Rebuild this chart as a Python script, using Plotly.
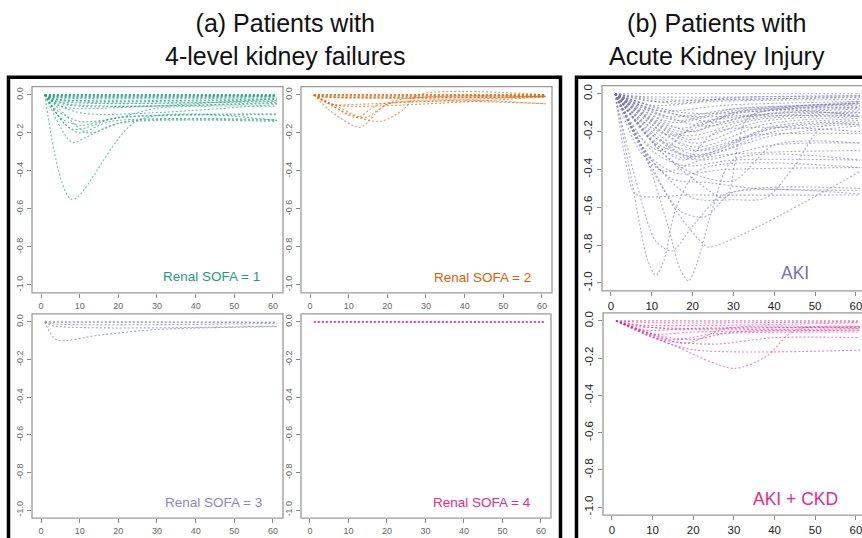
import plotly.graph_objects as go

W, H = 862, 538

# ---------------- data (keypoints) ----------------
x_ticks = [0, 10, 20, 30, 40, 50, 60]
y_ticks = [0, -0.2, -0.4, -0.6, -0.8, -1.0]
y_ticktext = ["0.0", "-0.2", "-0.4", "-0.6", "-0.8", "-1.0"]

# Renal SOFA = 1
sofa1_x = [[1, 8, 25, 61], [1, 8, 12, 20, 61], [1, 6, 10, 18, 61], [1, 5, 10, 20, 61],
           [1, 4, 10, 20, 30, 61], [1, 5, 12, 61], [1, 4, 10, 61], [1, 3, 61], [1, 61],
           [1, 3, 61], [1, 3, 61], [1, 4, 8, 61], [1, 6, 12, 22, 61], [1, 8, 20, 61],
           [1, 3, 61], [1, 5, 61], [1, 61], [1, 3, 61], [1, 4, 61], [1, 3, 61], [1, 5, 61],
           [1, 6, 61], [1, 61]]
sofa1_y = [[0, -0.55, -0.135, -0.135], [0, -0.25, -0.22, -0.15, -0.14], [0, -0.15, -0.2, -0.14, -0.13],
           [0, -0.12, -0.16, -0.12, -0.105], [0, -0.08, -0.14, -0.12, -0.07, -0.06],
           [0, -0.06, -0.1, -0.05], [0, -0.04, -0.06, -0.04], [0, -0.03, -0.03], [0, 0],
           [0, -0.01, -0.01], [0, -0.02, -0.02], [0, -0.05, -0.07, -0.02], [0, -0.1, -0.2, -0.14, -0.135],
           [0, -0.18, -0.12, -0.1], [0, -0.005, -0.005], [0, -0.03, -0.035], [0, -0.002],
           [0, -0.008, -0.008], [0, -0.015, -0.015], [0, -0.004, -0.004], [0, -0.025, -0.025],
           [0, -0.045, -0.045], [0, 0]]

# Renal SOFA = 2
sofa2_x = [[1, 5, 13, 20, 61], [1, 10, 18, 24, 28, 61], [1, 6, 12, 18, 61], [1, 6, 12, 61],
           [1, 61], [1, 3, 61], [1, 4, 10, 61], [1, 8, 14, 22, 61], [1, 3, 61], [1, 61],
           [1, 3, 61], [1, 61], [1, 4, 61]]
sofa2_y = [[0, -0.08, -0.17, -0.05, -0.047], [0, -0.1, -0.14, -0.08, 0, 0], [0, -0.06, -0.12, -0.05, -0.047],
           [0, -0.05, -0.05, -0.005], [0, 0], [0, -0.01, -0.01], [0, -0.04, -0.06, -0.01],
           [0, -0.07, -0.12, -0.03, -0.01], [0, -0.005, -0.005], [0, -0.002],
           [0, -0.008, -0.008], [0, 0], [0, -0.012, -0.012]]

# Renal SOFA = 3
sofa3_x = [[1, 4, 15, 30, 61], [1, 3, 61], [1, 61], [1, 3, 61], [1, 61]]
sofa3_y = [[0, -0.095, -0.07, -0.04, -0.025], [0, -0.02, -0.022], [0, 0], [0, -0.01, -0.008], [0, -0.003]]

# Renal SOFA = 4
sofa4_x = [[1, 61], [1, 61], [1, 61]]
sofa4_y = [[0, 0], [0, -0.002], [0, 0.001]]

# AKI
aki_x = [[1, 61], [1, 8, 61], [1, 10, 25, 61], [1, 10, 25, 61], [1, 12, 28, 61], [1, 14, 30, 61],
         [1, 15, 30, 61], [1, 16, 32, 61], [1, 17, 33, 61], [1, 18, 35, 61], [1, 19, 35, 61],
         [1, 20, 36, 61], [1, 20, 38, 61], [1, 21, 40, 61], [1, 20, 40, 61], [1, 19, 38, 61],
         [1, 12, 20, 40, 61], [1, 12, 21, 40, 61], [1, 10, 20, 35, 61], [1, 13, 22, 40, 61],
         [1, 10, 18, 30, 61], [1, 9, 16, 28, 61], [1, 7, 13, 25, 61], [1, 8, 15, 24, 35, 61],
         [1, 4, 6, 20, 61], [1, 5, 9, 11, 13, 16, 22, 61], [1, 8, 14, 17, 19, 21, 25, 30, 61],
         [1, 8, 16, 22, 24, 61], [1, 10, 20, 30, 38, 45, 52, 61], [1, 6, 11, 15, 20, 28, 61],
         [1, 10, 17, 23, 30, 61], [1, 12, 22, 28, 34, 61], [1, 12, 20, 30, 40, 61],
         [1, 10, 18, 26, 61], [1, 6, 12, 22, 61], [1, 8, 15, 30, 61], [1, 20, 30, 61],
         [1, 25, 40, 61], [1, 15, 30, 61], [1, 10, 20, 45, 61], [1, 12, 61], [1, 18, 61],
         [1, 22, 40, 61], [1, 16, 30, 61]]
aki_y = [[0, 0], [0, -0.015, -0.01], [0, -0.04, -0.03, -0.02], [0, -0.06, -0.04, -0.03],
         [0, -0.09, -0.06, -0.04], [0, -0.12, -0.08, -0.05], [0, -0.15, -0.09, -0.06],
         [0, -0.18, -0.1, -0.07], [0, -0.2, -0.12, -0.08], [0, -0.22, -0.13, -0.09],
         [0, -0.24, -0.14, -0.1], [0, -0.26, -0.15, -0.11], [0, -0.28, -0.16, -0.12],
         [0, -0.3, -0.17, -0.13], [0, -0.32, -0.18, -0.14], [0, -0.33, -0.19, -0.15],
         [0, -0.25, -0.34, -0.2, -0.16], [0, -0.27, -0.33, -0.22, -0.17], [0, -0.22, -0.3, -0.22, -0.21],
         [0, -0.3, -0.35, -0.27, -0.26], [0, -0.3, -0.38, -0.35, -0.35], [0, -0.32, -0.42, -0.4, -0.39],
         [0, -0.3, -0.41, -0.33, -0.3], [0, -0.3, -0.45, -0.47, -0.5, -0.51],
         [0, -0.4, -0.53, -0.535, -0.535], [0, -0.45, -0.88, -0.96, -0.88, -0.6, -0.4, -0.39],
         [0, -0.3, -0.7, -0.93, -0.99, -0.9, -0.6, -0.35, -0.35], [0, -0.3, -0.62, -0.78, -0.81, -0.41],
         [0, -0.35, -0.55, -0.56, -0.55, -0.38, -0.17, -0.165], [0, -0.45, -0.78, -0.83, -0.7, -0.53, -0.53],
         [0, -0.4, -0.62, -0.65, -0.52, -0.5], [0, -0.3, -0.48, -0.55, -0.12, -0.12],
         [0, -0.3, -0.42, -0.46, -0.27, -0.26], [0, -0.25, -0.35, -0.2, -0.2], [0, -0.2, -0.3, -0.15, -0.12],
         [0, -0.15, -0.22, -0.1, -0.07], [0, -0.2, -0.1, -0.05], [0, -0.15, -0.08, -0.04],
         [0, -0.05, -0.02, -0.01], [0, -0.08, -0.12, -0.1, -0.1], [0, -0.03, -0.015],
         [0, -0.1, -0.045], [0, -0.17, -0.1, -0.075], [0, -0.14, -0.08, -0.055]]

# AKI + CKD
ckd_x = [[1, 15, 30, 38, 45, 61], [1, 10, 20, 61], [1, 12, 25, 40, 61], [1, 15, 25, 61],
         [1, 10, 20, 61], [1, 8, 20, 61], [1, 6, 61], [1, 5, 61], [1, 61], [1, 10, 61],
         [1, 18, 28, 61], [1, 12, 20, 30, 61], [1, 12, 61]]
ckd_y = [[0, -0.13, -0.255, -0.19, -0.05, -0.03], [0, -0.09, -0.155, -0.157], [0, -0.1, -0.125, -0.09, -0.09],
         [0, -0.1, -0.07, -0.06], [0, -0.07, -0.06, -0.05], [0, -0.05, -0.04, -0.035], [0, -0.03, -0.03],
         [0, -0.02, -0.01], [0, 0], [0, -0.01, -0.005], [0, -0.12, -0.04, -0.04], [0, -0.08, -0.1, -0.06, -0.05],
         [0, -0.04, -0.04]]

panel_labels = ["Renal SOFA = 1", "Renal SOFA = 2", "Renal SOFA = 3", "Renal SOFA = 4", "AKI", "AKI + CKD"]
titles = ["(a) Patients with<br>4-level kidney failures", "(b) Patients with<br>Acute Kidney Injury"]

# ---------------- layout geometry ----------------
def px_x(p):
    return p / W

def px_y(p):
    return 1 - p / H

panels = [
    dict(x=sofa1_x, y=sofa1_y, col="rgba(27,158,119,0.65)", fr=(32, 283, 85, 292), xr=[-2.33, 62.6],
         lab=panel_labels[0], lc="#1B9E77", lp=(262, 276), small=True),
    dict(x=sofa2_x, y=sofa2_y, col="rgba(217,95,2,0.65)", fr=(301, 552, 85, 292), xr=[-2.33, 62.6],
         lab=panel_labels[1], lc="#D95F02", lp=(533, 277), small=True),
    dict(x=sofa3_x, y=sofa3_y, col="rgba(117,112,179,0.65)", fr=(32, 283, 313, 518), xr=[-2.33, 62.6],
         lab=panel_labels[2], lc="#8985C2", lp=(264, 502), small=True),
    dict(x=sofa4_x, y=sofa4_y, col="rgba(231,41,138,0.8)", fr=(301, 551, 313, 518), xr=[-2.33, 62.6],
         lab=panel_labels[3], lc="#E7298A", lp=(533, 502), small=True),
    dict(x=aki_x, y=aki_y, col="rgba(117,112,179,0.6)", fr=(602, 862, 84, 290), xr=[-2.2, 61.5],
         lab=panel_labels[4], lc="#7570B3", lp=(795, 272), small=False),
    dict(x=ckd_x, y=ckd_y, col="rgba(231,41,138,0.6)", fr=(603, 862, 312, 515), xr=[-2.2, 61.5],
         lab=panel_labels[5], lc="#E7298A", lp=(795, 499), small=False),
]

fig = go.Figure()
layout = dict(width=W, height=H, margin=dict(l=0, r=0, t=0, b=0), autosize=False,
              paper_bgcolor="white", plot_bgcolor="white", showlegend=False)
shapes = []
annotations = []

for i, p in enumerate(panels):
    n = i + 1
    xa = "x" if n == 1 else f"x{n}"
    ya = "y" if n == 1 else f"y{n}"
    for xs, ys in zip(p["x"], p["y"]):
        fig.add_trace(go.Scatter(x=xs, y=ys, mode="lines", xaxis=xa, yaxis=ya,
                                 line=dict(color=p["col"], width=1.1, dash="2px,2px",
                                           shape="spline", smoothing=0.8),
                                 hoverinfo="skip"))
    l, r, t, b = p["fr"]
    small = p["small"]
    tf = dict(family="Liberation Sans, Arial", size=9 if small else 11.5,
              color="#666" if small else "#222")
    layout["xaxis" if n == 1 else f"xaxis{n}"] = dict(
        domain=[px_x(l), min(1.0, px_x(r))], anchor=ya, range=p["xr"], tickvals=x_ticks,
        ticks="outside", ticklen=4, tickcolor="#888", tickfont=tf, showgrid=False,
        zeroline=False, showline=False, fixedrange=True, ticklabeloverflow="allow")
    layout["yaxis" if n == 1 else f"yaxis{n}"] = dict(
        domain=[px_y(b), px_y(t)], anchor=xa, range=[-1.042, 0.043], tickvals=y_ticks,
        ticktext=y_ticktext, tickangle=-90, ticks="outside", ticklen=4, tickcolor="#888",
        tickfont=tf, showgrid=False, zeroline=False, showline=False, fixedrange=True)
    shapes.append(dict(type="rect", xref="paper", yref="paper", x0=px_x(l), x1=px_x(r + 20 if r >= 862 else r),
                       y0=px_y(b), y1=px_y(t), line=dict(color="#9a9a9a", width=1.3)))
    lx, ly = p["lp"]
    if small:
        annotations.append(dict(x=px_x(lx), y=px_y(ly), xref="paper", yref="paper", text=p["lab"],
                                showarrow=False, xanchor="right", yanchor="middle",
                                font=dict(family="Liberation Sans, Arial", size=13.5, color=p["lc"])))
    else:
        annotations.append(dict(x=px_x(lx), y=px_y(ly), xref="paper", yref="paper", text=p["lab"],
                                showarrow=False, xanchor="center", yanchor="middle",
                                font=dict(family="Liberation Sans, Arial", size=17.5, color=p["lc"])))

# outer black boxes
shapes.append(dict(type="rect", xref="paper", yref="paper", x0=px_x(8.5), x1=px_x(560.5),
                   y0=px_y(560), y1=px_y(75.5), line=dict(color="black", width=3.5)))
shapes.append(dict(type="rect", xref="paper", yref="paper", x0=px_x(576.5), x1=px_x(900),
                   y0=px_y(560), y1=px_y(75.5), line=dict(color="black", width=3.5)))

# titles
annotations.append(dict(x=px_x(285), y=px_y(38), xref="paper", yref="paper", text=titles[0],
                        showarrow=False, xanchor="center", yanchor="middle",
                        font=dict(family="Liberation Sans, Arial", size=25, color="#111")))
annotations.append(dict(x=px_x(717), y=px_y(38), xref="paper", yref="paper", text=titles[1],
                        showarrow=False, xanchor="center", yanchor="middle",
                        font=dict(family="Liberation Sans, Arial", size=25, color="#111")))

layout["shapes"] = shapes
layout["annotations"] = annotations
fig.update_layout(**layout)
fig.write_html("out.html")
